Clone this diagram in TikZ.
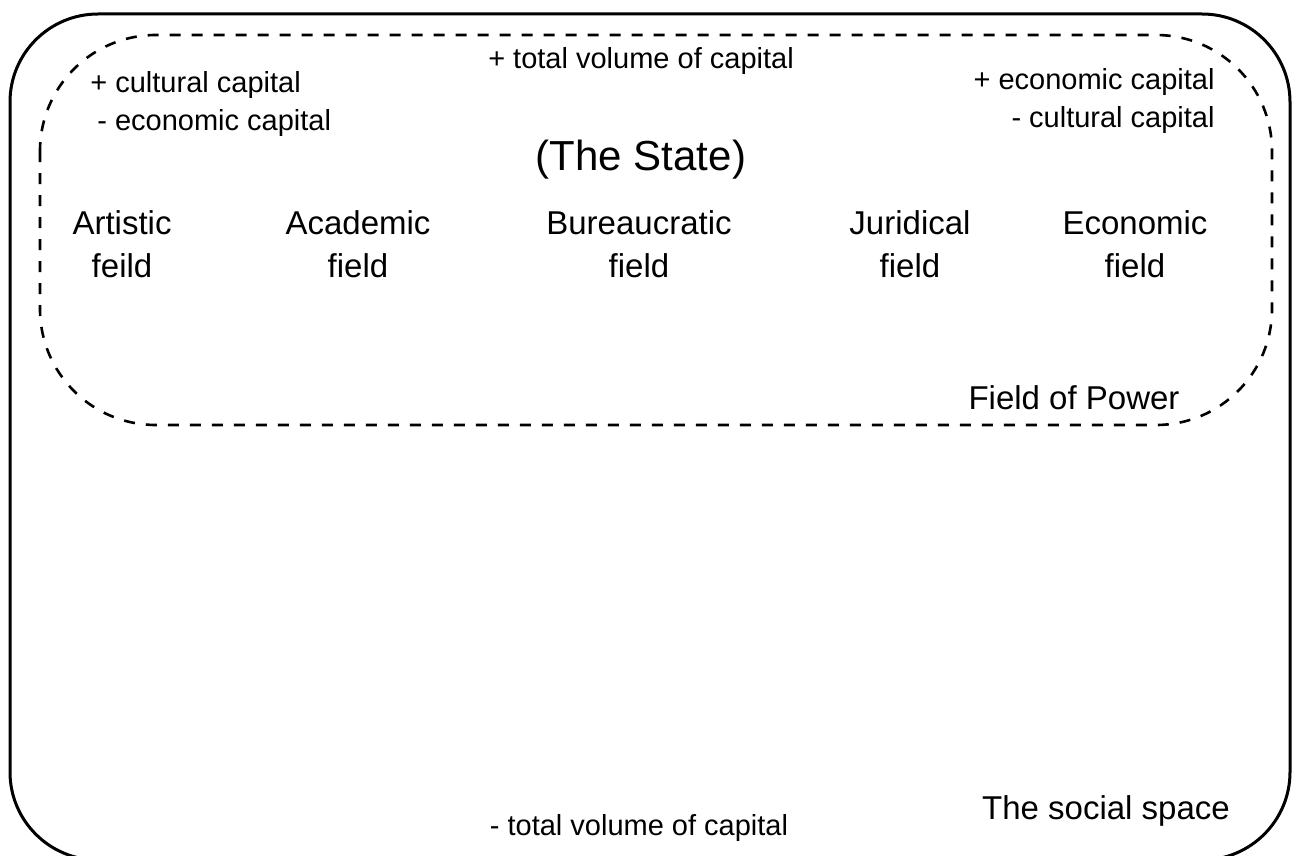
\documentclass[tikz,border=0pt]{standalone}
\usepackage{fontspec}
\setmainfont{Liberation Sans}

\begin{document}
\begin{tikzpicture}[x=0.5pt,y=-0.5pt,
  small/.style={font=\fontsize{14.5}{18}\selectfont, inner sep=0pt},
  fieldlabel/.style={font=\fontsize{16.5}{21.5}\selectfont, align=center, inner sep=0pt},
  statelabel/.style={font=\fontsize{21}{25}\selectfont, inner sep=0pt}]
\useasboundingbox (0,0) rectangle (1295,856);

% the social space and the field of power
\draw[line width=1.5pt, rounded corners=44pt] (10,14) rectangle (1290,860);
\draw[line width=1.3pt, dash pattern=on 5.5pt off 5.5pt, rounded corners=58pt] (40,35) rectangle (1272,425);

\node[small, anchor=base] (vplus) at (641,69) {+ total volume of capital};
\node[small, anchor=base west] (cultplus) at (90,93) {+ cultural capital};
\node[small, anchor=base west] (ecominus) at (97,131) {- economic capital};
\node[small, anchor=base east] (ecoplus) at (1215,90) {+ economic capital};
\node[small, anchor=base east] (cultminus) at (1215,127) {- cultural capital};

\node[statelabel, anchor=base] (state) at (641,170) {(The State)};

\node[fieldlabel] (artistic) at (122,244) {Artistic\\feild};
\node[fieldlabel] (academic) at (358,244) {Academic\\field};
\node[fieldlabel] (bureau) at (639,244) {Bureaucratic\\field};
\node[fieldlabel] (juridical) at (910,244) {Juridical\\field};
\node[fieldlabel] (economic) at (1135,244) {Economic\\field};

\node[fieldlabel, anchor=base] (power) at (1074,409) {Field of Power};

\node[fieldlabel, anchor=base] (social) at (1106,819) {The social space};
\node[small, anchor=base] (vminus) at (639,835) {- total volume of capital};
\end{tikzpicture}
\end{document}
